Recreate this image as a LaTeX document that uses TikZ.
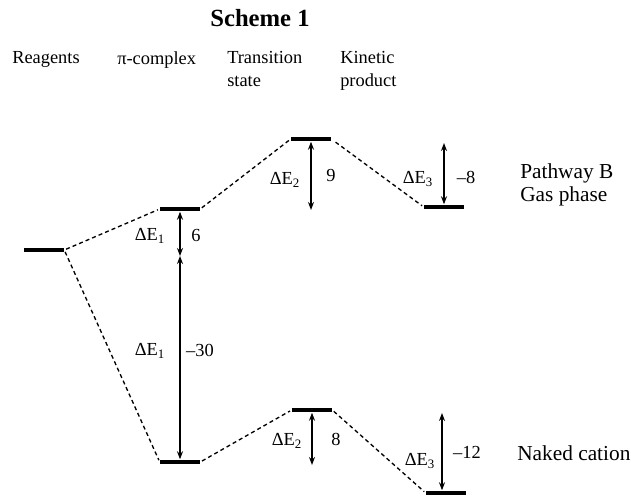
\documentclass[tikz,border=0pt]{standalone}
\usepackage{fontspec}
\setmainfont{Liberation Serif}
\usepackage{tikz}
\usetikzlibrary{arrows.meta}
\tikzset{lvl/.style={fill=black,minimum width=30pt,minimum height=3.7pt,inner sep=0pt},
  link/.style={line width=1pt,dash pattern=on 3pt off 2.3pt,shorten <=1.5pt,shorten >=1.5pt},
  gap/.style={{Stealth[length=6pt,width=4.5pt]}-{Stealth[length=6pt,width=4.5pt]},line width=1.1pt},
  hdr/.style={font=\fontsize{13.8}{17}\selectfont,align=left,anchor=north west,inner sep=0pt},
  dE/.style={font=\fontsize{13.8}{16}\selectfont,inner sep=0pt},
  side/.style={font=\fontsize{16}{17}\selectfont,align=left,anchor=west,inner sep=0pt}}

\begin{document}
\begin{tikzpicture}[x=0.75pt,y=-0.75pt]
\useasboundingbox (0,0) rectangle (631,496);
\node[font=\bfseries\fontsize{18.5}{20}\selectfont] (title) at (260,18.5) {Scheme 1};
% column heads
\node[hdr] (hR) at (12,51) {Reagents};
\node[hdr] (hP) at (117,51) {π-complex};
\node[hdr] (hT) at (227,51) {Transition\\state};
\node[hdr] (hK) at (340,51) {Kinetic\\product};
% energy levels
\node[lvl] (R) at (44,250) {};
\node[lvl] (Pg) at (180,209) {};
\node[lvl] (Tg) at (311,139) {};
\node[lvl] (Kg) at (444,207) {};
\node[lvl] (Pn) at (180,462) {};
\node[lvl] (Tn) at (312,410) {};
\node[lvl] (Kn) at (446,493) {};
% pathways
\draw[link] (R.east) -- (Pg.west);
\draw[link] (Pg.east) -- (Tg.west);
\draw[link,shorten <=4pt] (Tg.east) -- (Kg.west);
\draw[link] (R.east) -- (Pn.west);
\draw[link] (Pn.east) -- (Tn.west);
\draw[link] (Tn.east) -- (Kn.west);
% energy gaps
\coordinate (m1) at (180,256);
\coordinate (b2) at (311,210);
\coordinate (t3) at (444,143);
\coordinate (b2n) at (312,465);
\coordinate (t3n) at (442,413);
\draw[gap] (Pg.south) -- (m1);
\draw[gap] (m1) -- (Pn.north);
\draw[gap] (Tg.south) -- (b2);
\draw[gap] (t3) -- (Kg.north);
\draw[gap] (Tn.south) -- (b2n);
\draw[gap] (t3n) -- (t3n |- Kn.north);
% labels
\node[dE] (e1g) at (150,236) {ΔE\textsubscript{1}};
\node[dE] (v1g) at (196,235) {6};
\node[dE] (e1n) at (150,351) {ΔE\textsubscript{1}};
\node[dE] (v1n) at (200,350) {–30};
\node[dE] (e2g) at (285,180) {ΔE\textsubscript{2}};
\node[dE] (v2g) at (331,175) {9};
\node[dE] (e3g) at (418,179) {ΔE\textsubscript{3}};
\node[dE] (v3g) at (466,177) {–8};
\node[dE] (e2n) at (287,441) {ΔE\textsubscript{2}};
\node[dE] (v2n) at (336,439) {8};
\node[dE] (e3n) at (420,461) {ΔE\textsubscript{3}};
\node[dE] (v3n) at (467,452) {–12};
\node[side] (gas) at (520,185) {Pathway B\\Gas phase};
\node[side] (nak) at (517,453) {Naked cation};
\end{tikzpicture}
\end{document}
